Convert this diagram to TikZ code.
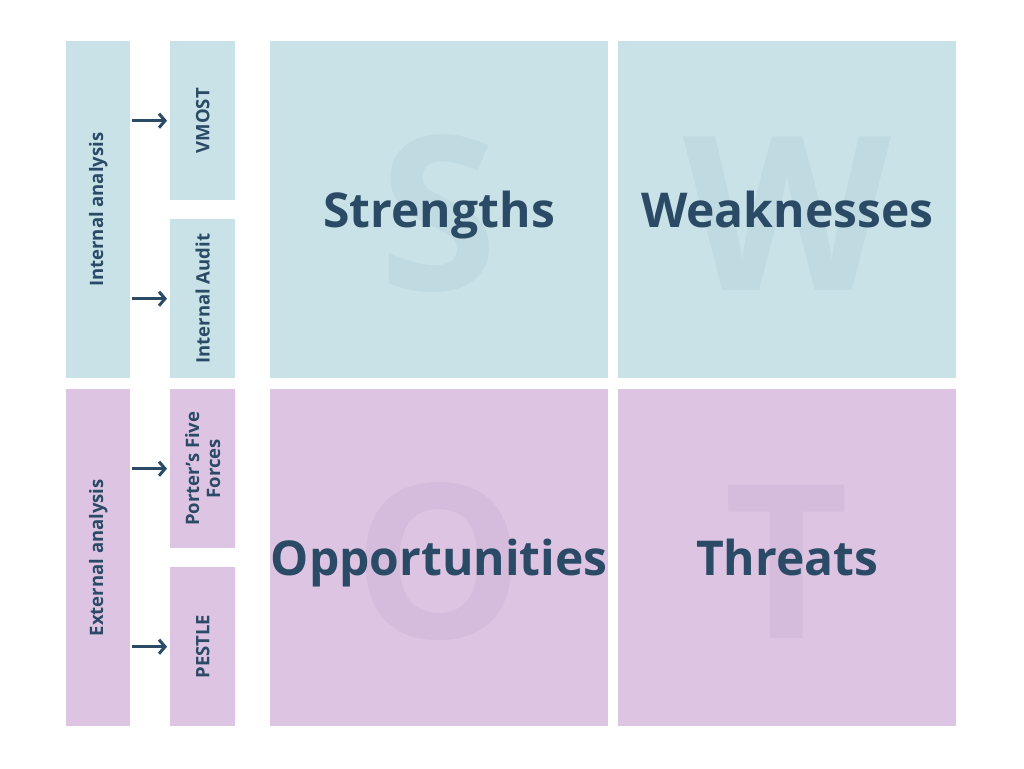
\documentclass[tikz,border=0pt]{standalone}
\usepackage{fontspec}
\setmainfont{Open Sans}
\usetikzlibrary{arrows.meta}
\definecolor{bluebg}{HTML}{C8E2E7}
\definecolor{blueletter}{HTML}{BFDAE0}
\definecolor{lilacbg}{HTML}{DDC4E2}
\definecolor{lilacletter}{HTML}{D6BCDC}
\definecolor{ink}{HTML}{2A4A66}
\tikzset{
  box/.style={rectangle, draw=none, inner sep=0pt, anchor=north west},
  bluebox/.style={box, fill=bluebg},
  lilacbox/.style={box, fill=lilacbg},
  sidelabel/.style={rotate=90, text=ink, font=\fontsize{18.5}{21}\selectfont\bfseries, align=center},
  biglabel/.style={text=ink, anchor=base, inner sep=0pt, font=\fontsize{48}{54}\selectfont\bfseries},
  ghost/.style={font=\fontsize{215}{215}\selectfont\bfseries},
  arr/.style={draw=ink, line width=3pt, -{Straight Barb[length=6pt,width=14pt,line width=3pt]}, shorten <=2pt, shorten >=3pt},
}
\begin{document}
\begin{tikzpicture}[x=1pt,y=-1pt]
\useasboundingbox (0,0) rectangle (1024,768);
\fill[white] (0,0) rectangle (1024,768);
% left column
\node[bluebox, minimum width=64pt, minimum height=337pt] (intA) at (66,41) {};
\node[lilacbox, minimum width=64pt, minimum height=337pt] (extA) at (66,389) {};
% middle column
\node[bluebox, minimum width=65pt, minimum height=159pt] (vmost) at (170,41) {};
\node[bluebox, minimum width=65pt, minimum height=159pt] (audit) at (170,219) {};
\node[lilacbox, minimum width=65pt, minimum height=159pt] (porter) at (170,389) {};
\node[lilacbox, minimum width=65pt, minimum height=159pt] (pestle) at (170,567) {};
% quadrants
\node[bluebox, minimum width=338pt, minimum height=337pt] (S) at (270,41) {};
\node[bluebox, minimum width=338pt, minimum height=337pt] (W) at (618,41) {};
\node[lilacbox, minimum width=338pt, minimum height=337pt] (O) at (270,389) {};
\node[lilacbox, minimum width=338pt, minimum height=337pt] (T) at (618,389) {};
% ghost letters
\node[ghost, text=blueletter] (Sg) at ([yshift=-4pt]S.center) {S};
\node[ghost, text=blueletter] (Wg) at ([yshift=-4pt]W.center) {W};
\node[ghost, text=lilacletter] (Og) at ([yshift=-4pt]O.center) {O};
\node[ghost, text=lilacletter] (Tg) at ([yshift=-4pt]T.center) {T};
% quadrant labels
\node[biglabel] (St) at ([yshift=-186pt]S.north) {Strengths};
\node[biglabel] (Wt) at ([yshift=-186pt]W.north) {Weaknesses};
\node[biglabel] (Ot) at ([yshift=-186pt]O.north) {Opportunities};
\node[biglabel] (Tt) at ([yshift=-186pt]T.north) {Threats};
% side labels
\node[sidelabel] (intAt) at (intA.center) {Internal analysis};
\node[sidelabel] (extAt) at (extA.center) {External analysis};
\node[sidelabel] (vmostt) at (vmost.center) {VMOST};
\node[sidelabel] (auditt) at (audit.center) {Internal Audit};
\node[sidelabel] (portert) at (porter.center) {Porter’s Five\\Forces};
\node[sidelabel] (pestlet) at (pestle.center) {PESTLE};
% arrows
\draw[arr] (intA.east |- vmost.west) -- (vmost.west);
\draw[arr] (intA.east |- audit.west) -- (audit.west);
\draw[arr] (extA.east |- porter.west) -- (porter.west);
\draw[arr] (extA.east |- pestle.west) -- (pestle.west);
\end{tikzpicture}
\end{document}
